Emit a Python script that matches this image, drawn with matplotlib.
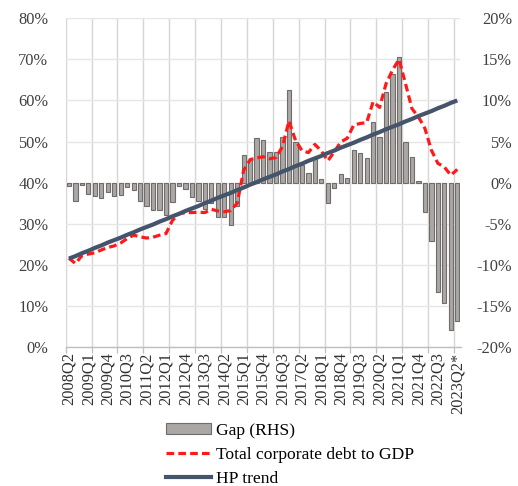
import matplotlib
matplotlib.use("Agg")
import matplotlib.pyplot as plt
from matplotlib.patches import Patch
from matplotlib.lines import Line2D
import numpy as np

plt.rcParams['font.family'] = ['Liberation Serif', 'DejaVu Serif']
plt.rcParams['font.size'] = 11.8

quarters = [
    "2008Q2", "2008Q3", "2008Q4", "2009Q1", "2009Q2", "2009Q3", "2009Q4", "2010Q1",
    "2010Q2", "2010Q3", "2010Q4", "2011Q1", "2011Q2", "2011Q3", "2011Q4", "2012Q1",
    "2012Q2", "2012Q3", "2012Q4", "2013Q1", "2013Q2", "2013Q3", "2013Q4", "2014Q1",
    "2014Q2", "2014Q3", "2014Q4", "2015Q1", "2015Q2", "2015Q3", "2015Q4", "2016Q1",
    "2016Q2", "2016Q3", "2016Q4", "2017Q1", "2017Q2", "2017Q3", "2017Q4", "2018Q1",
    "2018Q2", "2018Q3", "2018Q4", "2019Q1", "2019Q2", "2019Q3", "2019Q4", "2020Q1",
    "2020Q2", "2020Q3", "2020Q4", "2021Q1", "2021Q2", "2021Q3", "2021Q4", "2022Q1",
    "2022Q2", "2022Q3", "2022Q4", "2023Q1", "2023Q2*",
]

# Gap (RHS), percent
gap = [
    -0.45, -2.2, -0.3, -1.4, -1.6, -1.85, -1.15, -1.65, -1.55, -0.55,
    -0.95, -2.3, -2.9, -3.35, -3.35, -4.0, -2.4, -0.4, -0.8, -1.7,
    -2.2, -3.2, -2.5, -4.2, -4.2, -5.2, -2.9, 3.35, 2.7, 5.4,
    5.2, 3.75, 3.75, 5.5, 11.3, 5.0, 2.2, 1.2, 2.85, 0.4,
    -2.5, -0.6, 1.0, 0.5, 4.0, 3.55, 3.05, 7.4, 5.6, 11.05,
    13.2, 15.3, 4.9, 3.1, 0.25, -3.55, -7.1, -13.3, -14.7, -17.9,
    -16.8,
]

# Total corporate debt to GDP, percent
debt = [
    21.6, 20.3, 22.2, 22.6, 22.9, 23.6, 24.2, 24.6, 25.3, 26.4,
    27.2, 26.8, 26.5, 26.7, 27.2, 27.6, 30.8, 32.4, 32.7, 32.7,
    32.8, 32.7, 33.5, 33.1, 32.9, 33.2, 35.0, 43.0, 45.6, 46.0,
    46.3, 45.8, 46.1, 48.8, 55.0, 50.3, 47.8, 47.3, 49.3, 47.7,
    45.3, 47.5, 49.9, 50.8, 54.0, 54.4, 54.6, 59.7, 58.3, 64.1,
    67.4, 70.0, 64.1, 58.0, 56.0, 53.2, 47.9, 44.7, 43.8, 41.8,
    43.2,
]

# HP trend, percent
hp_trend = [
    21.5, 22.1, 22.8, 23.4, 24.1, 24.7, 25.4, 26.0, 26.6, 27.3,
    27.9, 28.6, 29.2, 29.8, 30.5, 31.1, 31.8, 32.4, 33.1, 33.7,
    34.3, 35.0, 35.6, 36.3, 36.9, 37.5, 38.2, 38.8, 39.5, 40.1,
    40.8, 41.4, 42.0, 42.7, 43.3, 44.0, 44.6, 45.3, 45.9, 46.5,
    47.2, 47.8, 48.5, 49.1, 49.7, 50.4, 51.0, 51.7, 52.3, 53.0,
    53.6, 54.2, 54.9, 55.5, 56.2, 56.8, 57.4, 58.1, 58.7, 59.4,
    60.0,
]

left_ticks = [0, 10, 20, 30, 40, 50, 60, 70, 80]
right_ticks = [-20, -15, -10, -5, 0, 5, 10, 15, 20]

W, H = 518, 486
fig = plt.figure(figsize=(W / 100, H / 100), dpi=100)
x0, x1, y0, y1 = 65.7, 460.5, 18.3, 346.9
ax2 = fig.add_axes([x0 / W, 1 - y1 / H, (x1 - x0) / W, (y1 - y0) / H])
ax = ax2.twinx()

x = np.arange(len(quarters))

bar_color = '#ABA7A5'
bar_edge = '#6F6C6B'
red = '#FF1A1A'
navy = '#44546A'

# Bars on right axis
ax2.bar(x, gap, width=0.66, color=bar_color, edgecolor=bar_edge, linewidth=0.8, zorder=2)
ax2.set_ylim(-20, 20)
ax2.set_yticks(right_ticks)
ax2.set_yticklabels([f"{v}%" for v in right_ticks])
ax2.yaxis.tick_right()
ax2.tick_params(axis='y', length=0, pad=37, colors='#404040')
for lbl in ax2.get_yticklabels():
    lbl.set_horizontalalignment('right')
ax2.set_axisbelow(True)
ax2.grid(axis='y', color='#E6E6E6', linewidth=1.0)

ax2.set_xlim(-0.5, len(quarters) - 0.5)
label_idx = list(range(0, len(quarters), 3))
ax2.set_xticks(label_idx)
ax2.set_xticklabels([quarters[i] for i in label_idx], rotation=90, color='#303030')
ax2.tick_params(axis='x', which='major', length=0, pad=4)
ax2.set_xticks(np.arange(-0.5, len(quarters) - 1, 4), minor=True)
ax2.tick_params(axis='x', which='minor', length=4.5, width=0.9, color='#BFBFBF')
ax2.grid(axis='x', which='minor', color='#D6D6D6', linewidth=1.0)

for s in ['top', 'left', 'right']:
    ax2.spines[s].set_visible(False)
ax2.spines['bottom'].set_color('#BFBFBF')
ax2.spines['bottom'].set_linewidth(1.0)

# Lines on left axis
ax.plot(x, debt, color=red, linewidth=2.3, linestyle=(0, (2.4, 1.3)), zorder=3)
ax.plot(x, hp_trend, color=navy, linewidth=3.0, zorder=4, solid_capstyle='butt')
ax.set_ylim(0, 80)
ax.set_yticks(left_ticks)
ax.set_yticklabels([f"{v}%" for v in left_ticks])
ax.yaxis.tick_left()
ax.tick_params(axis='y', length=0, pad=12.5, colors='#404040')
for s in ax.spines.values():
    s.set_visible(False)

handles = [
    Patch(facecolor=bar_color, edgecolor=bar_edge, linewidth=0.8),
    Line2D([0], [0], color=red, linewidth=2.3, linestyle=(0, (2.4, 1.3))),
    Line2D([0], [0], color=navy, linewidth=3.0),
]
labels = ["Gap (RHS)", "Total corporate debt to GDP", "HP trend"]
fig.legend(handles, labels, loc='upper left', bbox_to_anchor=(166 / W, 1 - 423 / H),
           frameon=False, borderpad=0, borderaxespad=0, handlelength=2.55,
           handleheight=0.6, handletextpad=0.28, labelspacing=0.46, fontsize=12.6)

fig.savefig("out.png", dpi=100)
